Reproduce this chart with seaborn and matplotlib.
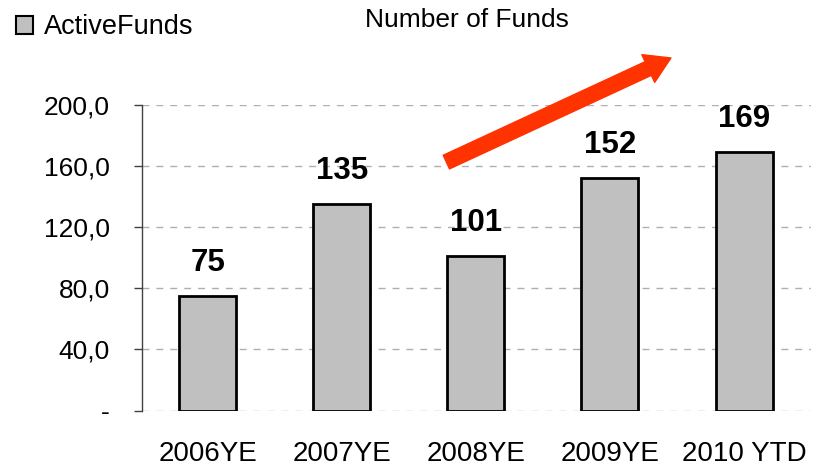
import seaborn as sns
import pandas as pd
from matplotlib import pyplot as plt
from matplotlib.patches import Patch
from matplotlib.ticker import FuncFormatter

# data
categories = ["2006YE", "2007YE", "2008YE", "2009YE", "2010 YTD"]
active_funds = [75, 135, 101, 152, 169]
y_ticks = [0, 40, 80, 120, 160, 200]

df = pd.DataFrame({"period": categories, "funds": active_funds})

sns.set_theme(style="white")
plt.rcParams["font.family"] = ["Liberation Sans", "DejaVu Sans"]
plt.rcParams["text.color"] = "black"

fig = plt.figure(figsize=(8.14, 4.66), dpi=100)
ax = fig.add_axes([0.1744, 0.1187, 0.822, 0.657])

sns.barplot(ax=ax, data=df, x="period", y="funds", color="#C0C0C0",
            saturation=1, edgecolor="black", linewidth=2, width=0.425)

ax.set_xlim(-0.49, 4.5)
ax.set_ylim(0, 200)
ax.set_yticks(y_ticks)
ax.yaxis.set_major_formatter(FuncFormatter(
    lambda v, p: "-" if v == 0 else f"{v:.1f}".replace(".", ",")))
ax.set_xlabel("")
ax.set_ylabel("")

# dashed grid behind the bars
ax.set_axisbelow(True)
ax.yaxis.grid(True, color="#AFAFAF", linestyle=(0, (5, 5)), linewidth=1)
ax.xaxis.grid(False)
for s in ["top", "right", "bottom"]:
    ax.spines[s].set_visible(False)
ax.spines["left"].set_color("#404040")
ax.spines["left"].set_linewidth(1)

ax.tick_params(axis="y", which="both", left=True, direction="out", length=6,
               width=1, color="#404040", pad=17, labelsize=19, labelcolor="black")
ax.tick_params(axis="x", length=0, pad=22, labelsize=20, labelcolor="black")

# value labels above bars
ax.bar_label(ax.containers[0], labels=[str(v) for v in active_funds],
             padding=13, fontsize=22.5, fontweight="bold", color="black")

# trend arrow
ax.annotate("", xy=(3.455, 230.4), xytext=(1.78, 162.4),
            arrowprops=dict(arrowstyle="simple,head_width=1.1,head_length=0.9,tail_width=0.54",
                            color="#FF3300", mutation_scale=20, shrinkA=0, shrinkB=0),
            annotation_clip=False)

fig.text(0.574, 0.957, "Number of Funds", ha="center", va="center",
         fontsize=19, color="black")

fig.legend(handles=[Patch(facecolor="#C0C0C0", edgecolor="black", linewidth=1.5,
                          label="ActiveFunds")],
           loc="upper left", bbox_to_anchor=(0.006, 0.993), frameon=False,
           fontsize=19.5, handlelength=0.65, handleheight=0.65, handletextpad=0.4,
           borderaxespad=0.0, borderpad=0.4, labelcolor="black")

fig.savefig("out.png", dpi=100)
